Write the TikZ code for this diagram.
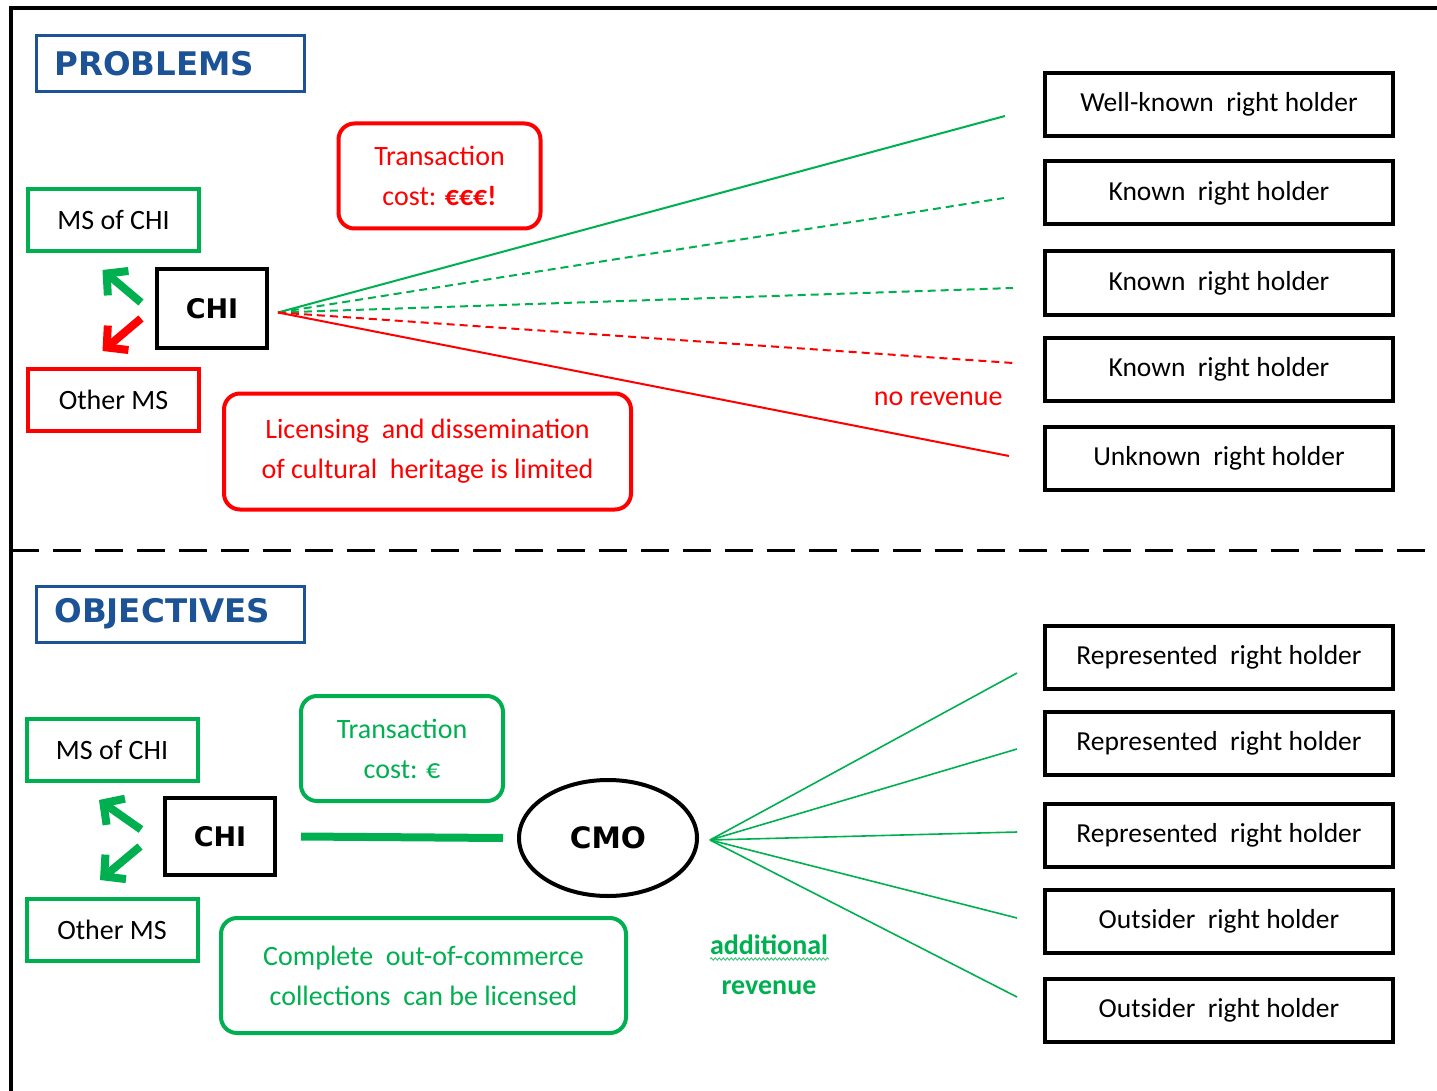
\documentclass[tikz,border=0pt]{standalone}
\usepackage{fontspec}
\setmainfont{Carlito}
\newfontfamily\headfont{DejaVu Sans}
\usetikzlibrary{arrows.meta,shapes.geometric,decorations.pathmorphing}

\definecolor{headblue}{RGB}{28,82,150}
\definecolor{okgreen}{RGB}{0,176,80}
\definecolor{badred}{RGB}{255,0,0}

\tikzset{
    heading/.style={draw=headblue, line width=3pt, text=headblue, font=\headfont\bfseries\fontsize{32.5}{38}\selectfont,
        minimum height=56pt, text width=232pt, inner xsep=18pt, align=left},
    msbox/.style={line width=4pt, minimum width=171pt, minimum height=62pt, font=\fontsize{28}{32}\selectfont},
    chibox/.style={draw=black, line width=4pt, minimum width=110pt, minimum height=79pt, font=\headfont\bfseries\fontsize{27}{32}\selectfont},
    holder/.style={draw=black, line width=4pt, minimum width=348pt, minimum height=63pt, font=\fontsize{27.5}{32}\selectfont},
    note/.style={rounded corners=16pt, line width=4pt, align=center, font=\fontsize{28}{40}\selectfont},
    fan/.style={line width=2pt},
    msarrow/.style={line width=8pt, -{Straight Barb[length=15pt,width=32pt,line width=8pt]}},
}

\begin{document}
\begin{tikzpicture}[x=1pt, y=-1pt]
        \useasboundingbox (0,0) rectangle (1437,1091);
        \draw[line width=4pt] (11,1091) -- (11,8) -- (1437,8);
        \draw[line width=3pt, dash pattern=on 28pt off 14pt] (11,550) -- (1437,550);

        % problems
        \node[heading] (prob) at (170.5,63.5) {PROBLEMS};
        \node[msbox, draw=okgreen] (msA) at (113.5,220) {MS of CHI};
        \node[msbox, draw=badred] (otherA) at (113.5,400) {Other MS};
        \node[chibox] (chiA) at (212,308.5) {CHI};
        \node[note, draw=badred, text=badred, minimum width=202pt, minimum height=105pt] (costA) at (439.5,176) {Transaction\\cost: \textbf{€€€!}};
        \node[note, draw=badred, text=badred, minimum width=407pt, minimum height=116pt] (limit) at (427.5,451.5) {Licensing\ \ and dissemination\\of cultural\ \ heritage is limited};

        \node[holder] (hA1) at (1219,104.5) {Well-known\ \ right holder};
        \node[holder] (hA2) at (1219,193) {Known\ \ right holder};
        \node[holder] (hA3) at (1219,283) {Known\ \ right holder};
        \node[holder] (hA4) at (1219,369.5) {Known\ \ right holder};
        \node[holder] (hA5) at (1219,458) {Unknown\ \ right holder};

        \coordinate (fanA) at ([xshift=9pt,yshift=-4pt]chiA.east);
        \coordinate (eA1) at (1005,116);
        \coordinate (eA2) at (1004,198);
        \coordinate (eA3) at (1013,288);
        \coordinate (eA4) at (1013,363);
        \coordinate (eA5) at (1009,456);
        \draw[fan, okgreen] (fanA) -- (eA1);
        \draw[fan, okgreen, dash pattern=on 8pt off 5pt] (fanA) -- (eA2);
        \draw[fan, okgreen, dash pattern=on 8pt off 5pt] (fanA) -- (eA3);
        \draw[fan, badred, dash pattern=on 8pt off 5pt] (fanA) -- (eA4);
        \draw[fan, badred] (fanA) -- (eA5);
        \node[text=badred, anchor=east, font=\fontsize{28}{32}\selectfont] (norev) at (1006,399) {no revenue};

        \draw[msarrow, okgreen] ([xshift=-14pt,yshift=6pt]chiA.west) -- ([xshift=-11pt,yshift=-17pt]msA.south);
        \draw[msarrow, badred] ([xshift=-14pt,yshift=-10pt]chiA.west) -- ([xshift=-11pt,yshift=16pt]otherA.north);

        % objectives
        \node[heading] (obj) at (170.5,614) {OBJECTIVES};
        \node[msbox, draw=okgreen] (msB) at (112,750) {MS of CHI};
        \node[msbox, draw=okgreen] (otherB) at (112,930) {Other MS};
        \node[chibox, minimum height=77pt] (chiB) at (220,836.5) {CHI};
        \node[note, draw=okgreen, text=okgreen, minimum width=202pt, minimum height=105pt] (costB) at (402,748.5) {Transaction\\cost: €};
        \node[note, draw=okgreen, text=okgreen, minimum width=405pt, minimum height=115pt] (coll) at (423.5,975.5) {Complete\ \ out-of-commerce\\collections\ \ can be licensed};
        \node[ellipse, draw=black, line width=4pt, minimum width=178pt, minimum height=116pt, font=\headfont\bfseries\fontsize{29.5}{34}\selectfont] (cmo) at (608,838) {CMO};
        \draw[okgreen, line width=8pt] ([xshift=24pt]chiB.east) -- ([xshift=-14pt]cmo.west);

        \draw[msarrow, okgreen] ([xshift=-22pt,yshift=7pt]chiB.west) -- ([xshift=-13pt,yshift=-17pt]msB.south);
        \draw[msarrow, okgreen] ([xshift=-23pt,yshift=-10pt]chiB.west) -- ([xshift=-12pt,yshift=17pt]otherB.north);

        \node[holder] (hB1) at (1219,657.5) {Represented\ \ right holder};
        \node[holder] (hB2) at (1219,743.5) {Represented\ \ right holder};
        \node[holder] (hB3) at (1219,835) {Represented\ \ right holder};
        \node[holder] (hB4) at (1219,921) {Outsider\ \ right holder};
        \node[holder] (hB5) at (1219,1010.5) {Outsider\ \ right holder};

        \coordinate (fanB) at ([xshift=11pt,yshift=-2pt]cmo.east);
        \foreach \y [count=\i] in {673,749,832,918,997} {
            \coordinate (eB\i) at (1017,\y);
            \draw[fan, okgreen, line width=1.6pt] (fanB) -- (eB\i);
        }
        \node[text=okgreen, align=center, font=\bfseries\fontsize{28}{40}\selectfont] (addrev) at (769,965) {additional\\revenue};
        \draw[okgreen!70, line width=1pt, decorate, decoration={snake, amplitude=1.2pt, segment length=4pt}] (710,959) -- (829,959);
    \end{tikzpicture}
\end{document}
